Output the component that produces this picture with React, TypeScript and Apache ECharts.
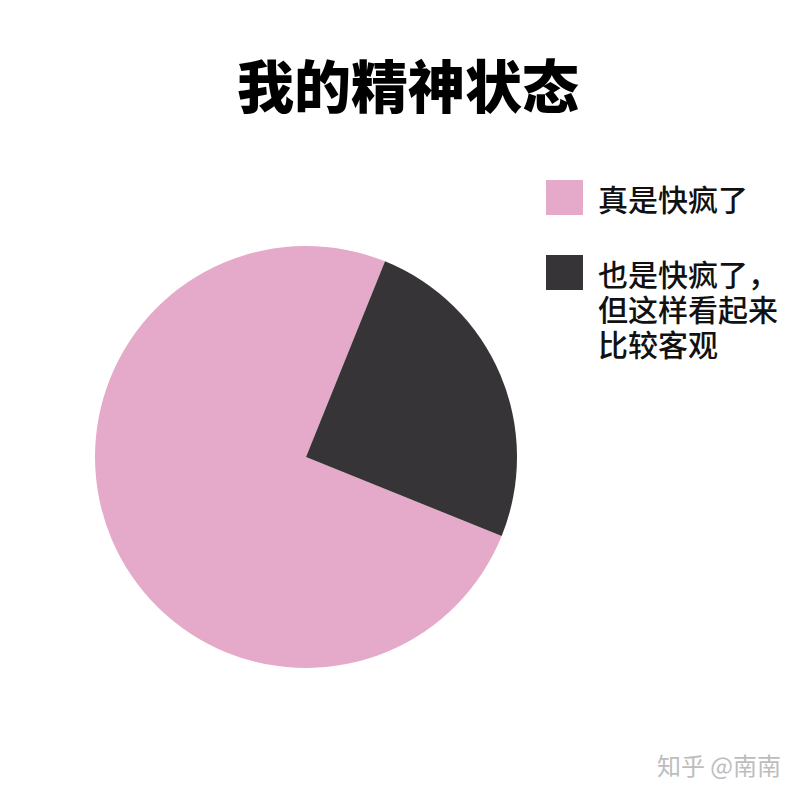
import React, { useEffect, useRef } from "react";
import * as echarts from "echarts";

const sliceNames = ["真是快疯了", "也是快疯了，但这样看起来比较客观"];
const sliceValues = [75, 25];
const sliceColors = ["#E5AAC9", "#363437"];
// how each legend name is broken into lines
const legendLines = [["真是快疯了"], ["也是快疯了，", "但这样看起来", "比较客观"]];

const FONT = '"Noto Sans CJK SC", "Noto Sans", sans-serif';

const App = () => {
  const chartRef = useRef<HTMLDivElement | null>(null);

  useEffect(() => {
    document.body.style.margin = "0";
    if (!chartRef.current) return;
    const myChart = echarts.init(chartRef.current, undefined, { renderer: "svg" });

    // legend text is centred on the icon, so pad with blank lines above
    // to keep the icon level with the first line
    const legendText = (name: string) => {
      const lines = legendLines[sliceNames.indexOf(name)];
      const out = lines.map((l) => `{g| }{t|${l}}`);
      for (let k = 1; k < lines.length; k++) out.unshift("{g| }");
      return out.join("\n");
    };

    const textBase = {
      fontFamily: FONT,
      fontSize: 30,
      lineHeight: 35,
      color: "#111",
    };

    const legendBase = {
      orient: "vertical",
      left: 546,
      padding: 0,
      icon: "rect",
      itemWidth: 37,
      itemHeight: 35,
      itemGap: 0,
      selectedMode: false,
      formatter: legendText,
      textStyle: {
        ...textBase,
        rich: {
          g: { ...textBase, width: 10 },
          t: { ...textBase, fontWeight: 500 },
        },
      },
    };

    const option = {
      animation: false,
      backgroundColor: "#fff",
      title: {
        text: "我的精神状态",
        left: 408,
        top: 53,
        textAlign: "center",
        padding: 0,
        textStyle: {
          fontFamily: FONT,
          fontSize: 57,
          fontWeight: 900,
          color: "#000",
          lineHeight: 60,
        },
      },
      legend: [
        { ...legendBase, top: 180, data: [sliceNames[0]] },
        { ...legendBase, top: 185, data: [sliceNames[1]] },
      ],
      graphic: [
        {
          type: "text",
          right: 19,
          top: 752,
          style: {
            text: "知乎 @南南",
            font: `24px ${FONT}`,
            fill: "#bdbdbd",
          },
        },
      ],
      series: [
        {
          type: "pie",
          center: [306, 457],
          radius: 211,
          startAngle: -22,
          clockwise: true,
          silent: true,
          label: { show: false },
          labelLine: { show: false },
          data: sliceNames.map((name, i) => ({
            name,
            value: sliceValues[i],
            itemStyle: { color: sliceColors[i] },
          })),
        },
      ],
    };

    myChart.setOption(option);

    return () => {
      myChart.dispose();
    };
  }, []);

  return <div ref={chartRef} style={{ width: "800px", height: "800px" }}></div>;
};

export default App;
